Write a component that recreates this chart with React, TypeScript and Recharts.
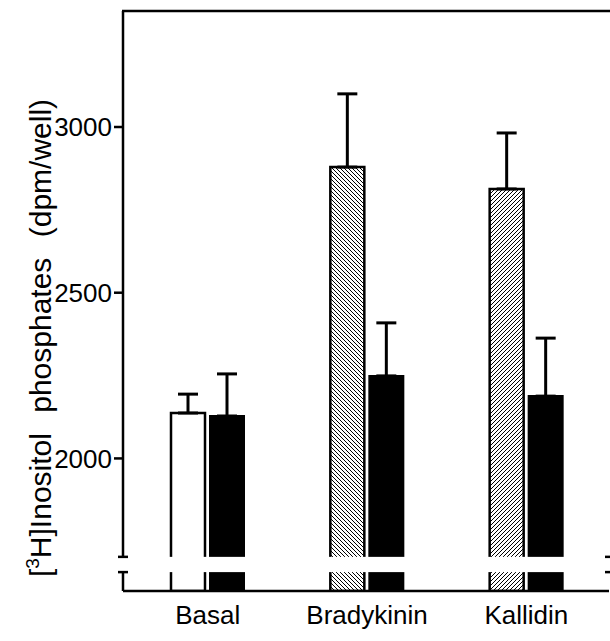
import React from "react";
import { BarChart, Bar, XAxis, YAxis, ErrorBar, Cell } from "recharts";

// values (dpm/well)
const categories = ["Basal", "Bradykinin", "Kallidin"];
const stimulated = [2137, 2879, 2813];
const stimulatedErr = [57, 221, 169];
const blocked = [2128, 2249, 2188];
const blockedErr = [127, 160, 175];
const yTicks = [2000, 2500, 3000];
const yDomain = [1600, 3350];
const axisBreak = [1657, 1703];

const data = categories.map((name, i) => ({
  name,
  a: stimulated[i],
  aErr: [0, stimulatedErr[i]],
  b: blocked[i],
  bErr: [0, blockedErr[i]],
}));

const firstFills = ["#fff", "url(#hatchBack)", "url(#hatchFwd)"];

const W = 610;
const H = 641;
const TOP = 11;
const BOTTOM = 591;
const LEFT = 123;
const RIGHT = 609;
const FONT = "'Liberation Sans', Arial, Helvetica, sans-serif";

const yPix = (v: number) =>
  BOTTOM - ((v - yDomain[0]) / (yDomain[1] - yDomain[0])) * (BOTTOM - TOP);

function Overlay() {
  const bTop = yPix(axisBreak[1]);
  const bBot = yPix(axisBreak[0]);
  return (
    <svg width={W} height={H} style={{ position: "absolute", left: 0, top: 0, pointerEvents: "none" }}>
      <line x1={LEFT - 1} y1={TOP} x2={RIGHT + 1} y2={TOP} stroke="#000" strokeWidth={2.5} />
      <rect x={LEFT - 10} y={bTop} width={W - LEFT + 10} height={bBot - bTop} fill="#fff" />
      <line x1={LEFT - 5} y1={bTop} x2={LEFT + 5} y2={bTop} stroke="#000" strokeWidth={2.5} />
      <line x1={LEFT - 5} y1={bBot} x2={LEFT + 5} y2={bBot} stroke="#000" strokeWidth={2.5} />
      <line x1={RIGHT - 4} y1={bTop} x2={RIGHT + 4} y2={bTop} stroke="#000" strokeWidth={2.5} />
      <line x1={RIGHT - 4} y1={bBot} x2={RIGHT + 4} y2={bBot} stroke="#000" strokeWidth={2.5} />
      <text
        transform="translate(51,338) rotate(-90)"
        textAnchor="middle"
        fontFamily={FONT}
        fontSize={30}
        fill="#000"
        style={{ wordSpacing: 12 }}
      >
        [<tspan dy={-12} fontSize={19}>3</tspan>
        <tspan dy={12}>H]Inositol phosphates (dpm/well)</tspan>
      </text>
    </svg>
  );
}

export default function App() {
  return (
    <div style={{ position: "absolute", left: 0, top: 0, width: W, height: H, background: "#fff" }}>
      <BarChart
        width={W}
        height={H}
        data={data}
        margin={{ top: TOP, right: W - RIGHT, bottom: 0, left: 0 }}
        barSize={34}
        barGap={5}
      >
        <defs>
          <pattern id="hatchBack" patternUnits="userSpaceOnUse" width={4} height={4}>
            <rect width={4} height={4} fill="#fff" />
            <path d="M-1,-1 L5,5 M-1,3 L1,5 M3,-1 L5,1" stroke="#000" strokeWidth={1} />
          </pattern>
          <pattern id="hatchFwd" patternUnits="userSpaceOnUse" width={4} height={4}>
            <rect width={4} height={4} fill="#fff" />
            <path d="M-1,5 L5,-1 M-1,1 L1,-1 M3,5 L5,3" stroke="#000" strokeWidth={1} />
          </pattern>
        </defs>
        <XAxis
          dataKey="name"
          height={H - BOTTOM}
          padding={{ left: 5, right: 3 }}
          axisLine={{ stroke: "#000", strokeWidth: 2.5 }}
          tickLine={false}
          tickSize={0}
          tickMargin={15}
          tick={{ fill: "#000", fontSize: 26, fontFamily: FONT }}
        />
        <YAxis
          yAxisId="left"
          width={LEFT}
          domain={yDomain}
          ticks={yTicks}
          allowDataOverflow
          axisLine={{ stroke: "#000", strokeWidth: 2.5 }}
          tickLine={{ stroke: "#000", strokeWidth: 2.5 }}
          tickSize={9}
          tickMargin={2}
          tick={{ fill: "#000", fontSize: 26, fontFamily: FONT }}
        />
        <YAxis
          yAxisId="right"
          orientation="right"
          mirror
          width={0}
          domain={yDomain}
          ticks={yTicks}
          allowDataOverflow
          axisLine={{ stroke: "#000", strokeWidth: 2.5 }}
          tickLine={{ stroke: "#000", strokeWidth: 2.5 }}
          tickSize={7}
          tick={false}
        />
        <Bar yAxisId="left" dataKey="a" stroke="#000" strokeWidth={2.5} isAnimationActive={false}>
          {data.map((d, i) => (
            <Cell key={d.name} fill={firstFills[i]} />
          ))}
          <ErrorBar dataKey="aErr" direction="y" width={10} stroke="#000" strokeWidth={3} isAnimationActive={false} />
        </Bar>
        <Bar yAxisId="left" dataKey="b" fill="#000" stroke="#000" strokeWidth={2} isAnimationActive={false}>
          <ErrorBar dataKey="bErr" direction="y" width={10} stroke="#000" strokeWidth={3} isAnimationActive={false} />
        </Bar>
      </BarChart>
      <Overlay />
    </div>
  );
}
